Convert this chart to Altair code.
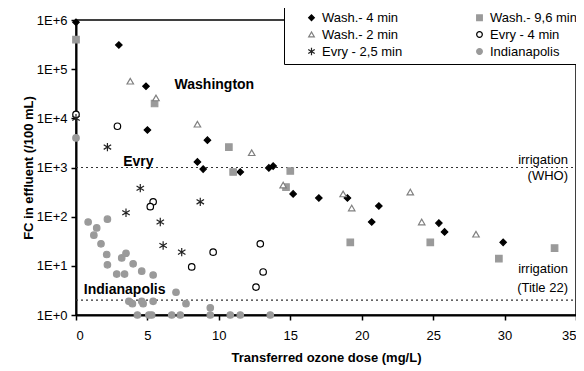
import altair as alt
import pandas as pd

series = ["Wash.- 4 min", "Wash.- 2 min", "Evry - 2,5 min",
          "Wash.- 9,6 min", "Evry - 4 min", "Indianapolis"]

wash4_x = [0, 3.0, 4.9, 5.0, 9.2, 8.5, 8.9, 11.5, 13.5, 13.8, 15.2, 17.0, 19.0, 21.2, 20.7, 25.4, 25.8, 29.9]
wash4_y = [9e5, 3.1e5, 4.5e4, 5.8e3, 3.6e3, 1.3e3, 930, 810, 980, 1070, 290, 240, 240, 165, 78, 74, 49, 30]

wash96_x = [0, 5.5, 10.7, 11.0, 15.0, 14.7, 19.2, 24.8, 29.6, 33.5]
wash96_y = [4e5, 2.0e4, 2.6e3, 810, 850, 400, 30, 30, 14, 23]

wash2_x = [3.8, 5.6, 8.5, 12.3, 14.5, 18.7, 19.3, 23.4, 24.2, 28.0]
wash2_y = [5.7e4, 2.6e4, 7.6e3, 2.0e3, 440, 290, 150, 316, 78, 44]

evry4_x = [0, 2.9, 5.4, 5.2, 9.6, 8.1, 12.9, 13.1, 12.6]
evry4_y = [1.2e4, 6.9e3, 200, 160, 19, 9.5, 28, 7.5, 3.7]

evry25_x = [0, 2.2, 4.5, 8.7, 3.5, 5.9, 6.1, 7.4]
evry25_y = [1.0e4, 2.6e3, 380, 200, 120, 78, 26, 19]

indy_x = [0, 0.85, 2.2, 1.45, 1.25, 1.75, 2.15, 2.2, 3.2, 3.5, 4.0, 2.85, 3.4, 4.6, 5.4,
          3.7, 3.95, 4.6, 4.7, 5.4, 7.0, 7.7, 9.4, 9.4, 4.3, 5.1, 5.3, 6.7, 7.3, 10.8, 11.5, 13.6]
indy_y = [4000, 78, 89, 59, 42, 28, 17, 10.5, 14.5, 18, 11, 6.8, 6.8, 7.8, 6.5,
          1.9, 1.7, 1.9, 1.7, 1.9, 2.9, 1.7, 1.4, 1.0, 1, 1, 1, 1, 1, 1, 1, 1]

y_ticks = [1, 10, 100, 1000, 10000, 100000, 1000000]
x_ticks = [0, 5, 10, 15, 20, 25, 30, 35]

limit_values = [1000, 2]

zone_labels = ["Washington", "Evry", "Indianapolis"]
zone_x = [6.9, 3.3, 0.55]
zone_y = [4.7e4, 1.3e3, 3.2]

irr_labels = ["irrigation", "(WHO)", "irrigation", "(Title 22)"]
irr_y = [1450, 680, 8.5, 3.5]
irr_x = [35, 35, 35, 35]

rows = []
for name, xs, ys in [("Wash.- 4 min", wash4_x, wash4_y), ("Wash.- 9,6 min", wash96_x, wash96_y),
                     ("Wash.- 2 min", wash2_x, wash2_y), ("Evry - 4 min", evry4_x, evry4_y),
                     ("Evry - 2,5 min", evry25_x, evry25_y), ("Indianapolis", indy_x, indy_y)]:
    for x, y in zip(xs, ys):
        rows.append({"series": name, "dose": x, "fc": y})
df = pd.DataFrame(rows)

asterisk = "M0,-1.3L0,1.3M-1.15,-0.7L1.15,0.7M-1.15,0.7L1.15,-0.7"
shapes = ["diamond", "triangle-up", asterisk, "square", "circle", "circle"]
fills = ["black", "white", "black", "#9a9a9a", "white", "#9a9a9a"]
strokes = ["black", "#808080", "#222222", "#9a9a9a", "black", "#9a9a9a"]

xscale = alt.Scale(domain=[0, 35], nice=False, zero=False)
yscale = alt.Scale(type="log", domain=[1, 1e6], nice=False)

leg = alt.Legend(title=None, orient="none", legendX=208, legendY=-14, columns=2,
                 columnPadding=54, rowPadding=3, padding=5, symbolOffset=16,
                 strokeColor="black", fillColor="white", labelFontSize=13,
                 labelFont="Liberation Sans", symbolSize=32, symbolStrokeWidth=1.2,
                 labelLimit=200, cornerRadius=0)

points = alt.Chart(df).mark_point(opacity=1, size=42, strokeWidth=1.2).encode(
    x=alt.X("dose:Q", scale=xscale,
            axis=alt.Axis(values=x_ticks, title="Transferred ozone dose (mg/L)", grid=False)),
    y=alt.Y("fc:Q", scale=yscale,
            axis=alt.Axis(values=y_ticks, title="FC in effluent (/100 mL)", grid=False,
                          labelExpr="'1E+' + format(round(log(datum.value)/LN10), 'd')")),
    shape=alt.Shape("series:N", scale=alt.Scale(domain=series, range=shapes), legend=leg),
    fill=alt.Fill("series:N", scale=alt.Scale(domain=series, range=fills), legend=leg),
    stroke=alt.Stroke("series:N", scale=alt.Scale(domain=series, range=strokes), legend=leg),
)

lim_df = pd.DataFrame({"fc": limit_values, "x0": [0, 0], "x1": [35, 35]})
rules = alt.Chart(lim_df).mark_rule(color="#333333", strokeDash=[2, 3], strokeWidth=1.2).encode(
    y=alt.Y("fc:Q", scale=yscale),
    x=alt.X("x0:Q", scale=xscale),
    x2="x1:Q",
)

zone_df = pd.DataFrame({"t": zone_labels, "x": zone_x, "y": zone_y})
zones = alt.Chart(zone_df).mark_text(align="left", baseline="middle", fontSize=14,
                                     fontWeight="bold", font="Liberation Sans",
                                     color="black").encode(
    x=alt.X("x:Q", scale=xscale), y=alt.Y("y:Q", scale=yscale), text="t:N")

irr_df = pd.DataFrame({"t": irr_labels, "x": irr_x, "y": irr_y})
irr = alt.Chart(irr_df).mark_text(align="right", baseline="middle", fontSize=13, dx=-8,
                                  font="Liberation Sans", color="black").encode(
    x=alt.X("x:Q", scale=xscale), y=alt.Y("y:Q", scale=yscale), text="t:N")

chart = alt.layer(rules, points, zones, irr).properties(
    width=500, height=295,
    autosize=alt.AutoSizeParams(type="none"),
    padding={"left": 68, "top": 12, "right": 0, "bottom": 50},
).configure_view(stroke="black", strokeWidth=1.5).configure_axis(
    domainColor="black", domainWidth=2, tickColor="black", tickWidth=1.5, tickSize=5,
    labelFont="Liberation Sans", labelFontSize=13, labelColor="black",
    titleFont="Liberation Sans", titleFontSize=13, titleFontWeight="bold", titleColor="black",
).configure_axisX(labelPadding=9, titlePadding=9).configure_axisY(labelPadding=4, titlePadding=1)

chart.save("out.html", embed_options={"renderer": "svg", "actions": False})
